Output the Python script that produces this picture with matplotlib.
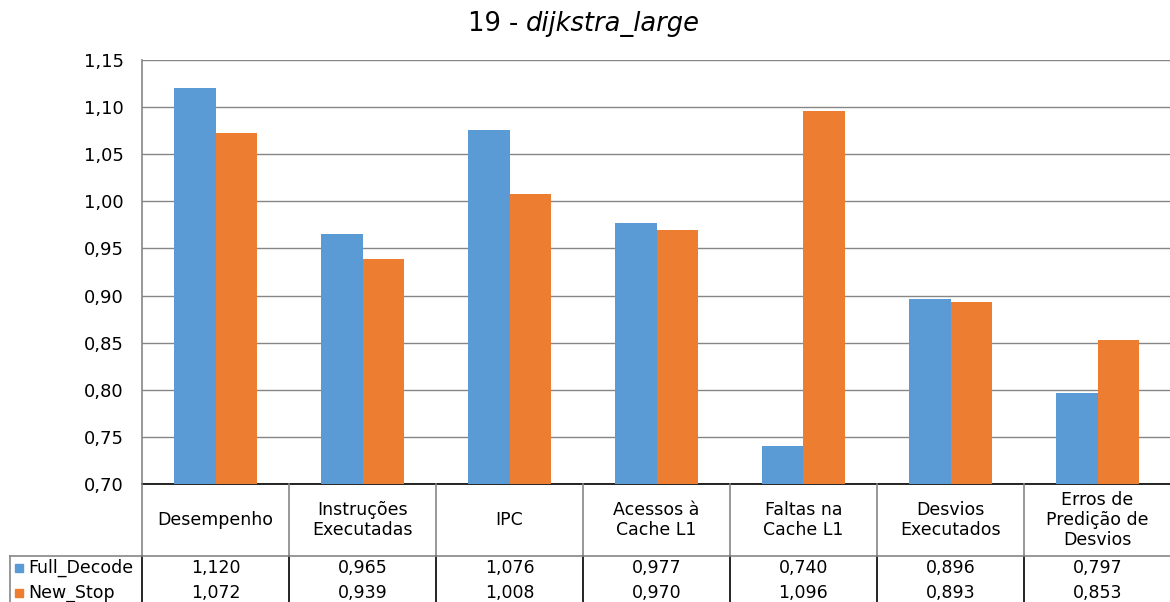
import matplotlib
matplotlib.use("Agg")
import matplotlib.pyplot as plt
from matplotlib.lines import Line2D
from matplotlib.patches import Rectangle
from matplotlib.ticker import FuncFormatter, MultipleLocator
from matplotlib.transforms import blended_transform_factory

# Data
categories = ["Desempenho", "Instruções\nExecutadas", "IPC", "Acessos à\nCache L1",
              "Faltas na\nCache L1", "Desvios\nExecutados", "Erros de\nPredição de\nDesvios"]
series_names = ["Full_Decode", "New_Stop"]
full_decode = [1.120, 0.965, 1.076, 0.977, 0.740, 0.896, 0.797]
new_stop = [1.072, 0.939, 1.008, 0.970, 1.096, 0.893, 0.853]
colors = ["#5B9BD5", "#ED7D31"]

W, H = 1170, 602
plt.rcParams['font.family'] = ['DejaVu Sans']
fig = plt.figure(figsize=(W / 100, H / 100), dpi=100)


def px(x):
    return x / W


def py(y):
    return 1 - y / H


ax = fig.add_axes([px(142), py(484), px(1171) - px(142), py(60) - py(484)])

n = len(categories)
xs = list(range(n))
bw = 0.28
ax.bar([x - bw / 2 for x in xs], full_decode, width=bw, color=colors[0], zorder=3)
ax.bar([x + bw / 2 for x in xs], new_stop, width=bw, color=colors[1], zorder=3)

ax.set_xlim(-0.5, n - 0.5)
ax.set_ylim(0.70, 1.15)
ax.yaxis.set_major_locator(MultipleLocator(0.05))
ax.yaxis.set_major_formatter(FuncFormatter(lambda v, p: f"{v:.2f}".replace(".", ",")))
ax.tick_params(axis='y', length=0, pad=13, labelsize=13)
ax.tick_params(axis='x', length=0, labelbottom=False)
ax.grid(axis='y', color='#868686', linewidth=1.0, zorder=0)
for s in ['top', 'right']:
    ax.spines[s].set_visible(False)
ax.spines['left'].set_color('#868686')
ax.spines['left'].set_linewidth(1.2)
ax.spines['bottom'].set_color('black')
ax.spines['bottom'].set_linewidth(1.2)

fig.text(px(526), py(24), "19 - ", ha='right', va='center', fontsize=18.5)
fig.text(px(526), py(24), "dijkstra_large", ha='left', va='center', fontsize=18.5, style='italic')

# Data table below the plot
tr = blended_transform_factory(ax.transData, fig.transFigure)
grey = '#868686'
for k in range(n + 1):
    xb = k - 0.5
    fig.add_artist(Line2D([xb, xb], [py(484), py(556)], transform=tr, color=grey, lw=1.2))
    fig.add_artist(Line2D([xb, xb], [py(556), py(610)], transform=tr, color='black', lw=1.2))
fig.add_artist(Line2D([px(10), px(1171)], [py(556), py(556)], transform=fig.transFigure, color=grey, lw=1.2))
fig.add_artist(Line2D([px(10), px(10)], [py(556), py(610)], transform=fig.transFigure, color=grey, lw=1.2))

for i, cat in enumerate(categories):
    fig.text(i, py(520), cat, transform=tr, ha='center', va='center', fontsize=12.5, linespacing=1.15)

rows_y = [568, 593]
for r, (name, vals) in enumerate(zip(series_names, [full_decode, new_stop])):
    y = rows_y[r]
    fig.add_artist(Rectangle((px(15), py(y + 4)), px(8), py(y - 4) - py(y + 4),
                             transform=fig.transFigure, color=colors[r]))
    fig.text(px(28), py(y), name, ha='left', va='center', fontsize=12.5)
    for i, v in enumerate(vals):
        fig.text(i, py(y), f"{v:.3f}".replace(".", ","), transform=tr,
                 ha='center', va='center', fontsize=12.5)

fig.savefig("out.png", dpi=100)
